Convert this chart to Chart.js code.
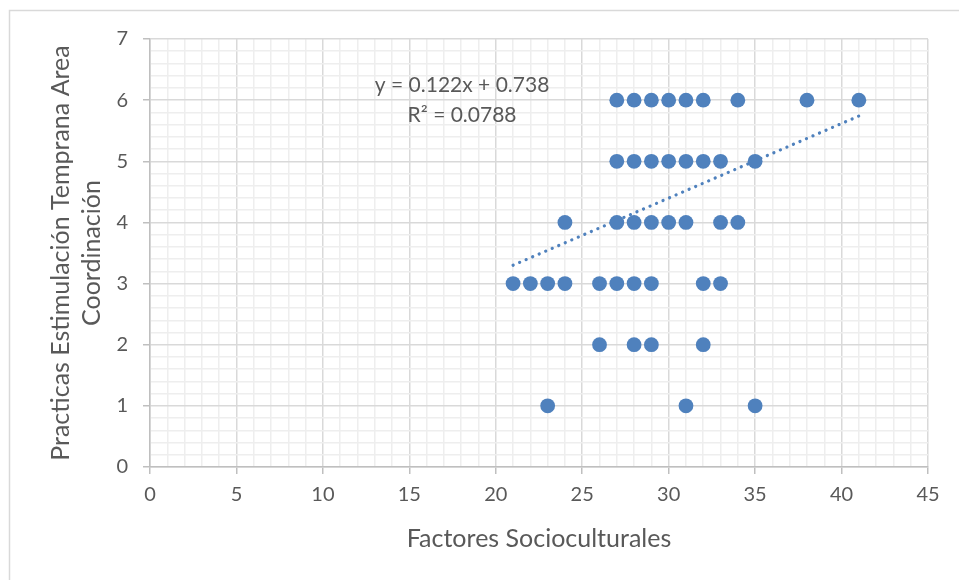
<!DOCTYPE html>
<html>
<head>
<meta charset="utf-8">
<script src="https://cdn.jsdelivr.net/npm/chart.js@4.4.1/dist/chart.umd.min.js"></script>
<style>
  html, body { margin: 0; padding: 0; background: #fff; }
  #wrap { width: 959px; height: 580px; }
</style>
</head>
<body>
<div id="wrap"><canvas id="chart" width="959" height="580"></canvas></div>
<script>
// data
const row6 = [27, 28, 29, 30, 31, 32, 34, 38, 41];
const row5 = [27, 28, 29, 30, 31, 32, 33, 35];
const row4 = [24, 27, 28, 29, 30, 31, 33, 34];
const row3 = [21, 22, 23, 24, 26, 27, 28, 29, 32, 33];
const row2 = [26, 28, 29, 32];
const row1 = [23, 31, 35];
const rows = [[6, row6], [5, row5], [4, row4], [3, row3], [2, row2], [1, row1]];

const slope = 0.122;
const intercept = 0.738;
const trendX = [21, 41];
const eqText = 'y = 0.122x + 0.738';
const r2Text = 'R\u00b2 = 0.0788';

const points = [];
for (const [y, xs] of rows) {
  for (const x of xs) points.push({ x, y });
}
const trend = trendX.map(x => ({ x, y: slope * x + intercept }));

const textColor = '#595959';
const major = '#d9d9d9';
const minor = '#eeeeee';
const axisCol = '#bfbfbf';
const isInt = v => Math.abs(v - Math.round(v)) < 1e-6;

const frame = {
  id: 'frame',
  beforeDraw(chart) {
    const c = chart.ctx;
    c.save();
    c.fillStyle = '#fff';
    c.fillRect(0, 0, chart.width, chart.height);
    c.strokeStyle = '#d9d9d9';
    c.lineWidth = 1.5;
    c.strokeRect(9.5, 10.5, 1200, 1200);
    c.restore();
  },
  afterDatasetsDraw(chart) {
    const c = chart.ctx;
    const xs = chart.scales.x, ys = chart.scales.y;
    c.save();
    c.fillStyle = textColor;
    c.font = '21px Lato';
    c.textAlign = 'center';
    c.textBaseline = 'middle';
    c.fillText(eqText, xs.getPixelForValue(18.05), ys.getPixelForValue(6.24));
    c.fillText(r2Text, xs.getPixelForValue(18.05), ys.getPixelForValue(5.75));
    c.restore();
  }
};

new Chart(document.getElementById('chart'), {
  type: 'scatter',
  data: {
    datasets: [
      {
        label: 'Coordinación',
        data: points,
        backgroundColor: '#4f81bd',
        borderColor: '#4f81bd',
        borderWidth: 0,
        pointRadius: 7.4,
        pointHoverRadius: 7.4,
      },
      {
        label: 'Tendencia',
        type: 'line',
        data: trend,
        borderColor: '#4f81bd',
        borderWidth: 3.2,
        borderDash: [0.1, 7],
        borderCapStyle: 'round',
        pointRadius: 0,
        fill: false,
      },
    ],
  },
  options: {
    animation: false,
    responsive: false,
    events: [],
    layout: { padding: { left: 0, right: 31, top: 39, bottom: 0 } },
    plugins: { legend: { display: false }, tooltip: { enabled: false } },
    scales: {
      x: {
        type: 'linear',
        min: 0, max: 45,
        afterFit: s => { s.height = 113; },
        ticks: {
          stepSize: 1, autoSkip: false, maxRotation: 0,
          color: textColor, font: { family: 'Lato', size: 20 }, padding: 9,
          callback: v => (v % 5 === 0 ? v : ''),
        },
        grid: {
          color: c => (c.tick && c.tick.value % 5 === 0 ? major : minor),
          lineWidth: 1.5,
          tickLength: 7,
          tickColor: c => (c.tick && c.tick.value % 5 === 0 ? axisCol : 'rgba(0,0,0,0)'),
        },
        border: { color: axisCol, width: 1.5 },
        title: {
          display: true, text: 'Factores Socioculturales', color: textColor,
          font: { family: 'Lato', size: 25, lineHeight: 1.2 }, padding: { top: 0, bottom: 26 },
        },
      },
      y: {
        type: 'linear',
        min: 0, max: 7,
        afterFit: s => { s.width = 150; },
        ticks: {
          stepSize: 0.2, autoSkip: false,
          color: textColor, font: { family: 'Lato', size: 20 }, padding: 15,
          callback: v => (isInt(v) ? Math.round(v) : ''),
        },
        grid: {
          color: c => (c.tick && isInt(c.tick.value) ? major : minor),
          lineWidth: 1.5,
          tickLength: 7,
          tickColor: c => (c.tick && isInt(c.tick.value) ? axisCol : 'rgba(0,0,0,0)'),
        },
        border: { color: axisCol, width: 1.5 },
        title: {
          display: true, text: ['Practicas Estimulación Temprana Area', 'Coordinación'], color: textColor,
          font: { family: 'Lato', size: 25, lineHeight: 1.24 }, padding: { top: 45, bottom: 0 },
        },
      },
    },
  },
  plugins: [frame],
});
</script>
</body>
</html>
